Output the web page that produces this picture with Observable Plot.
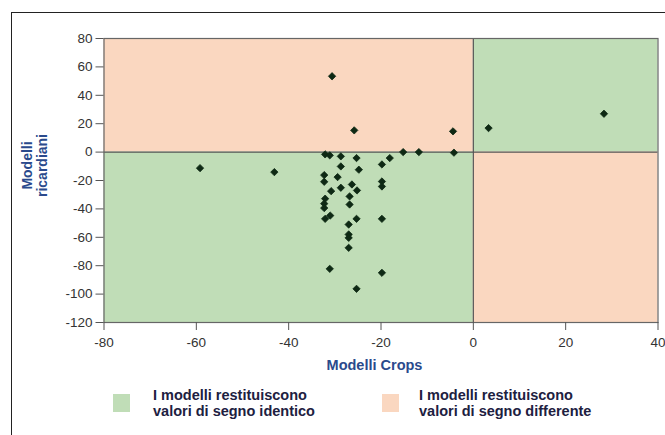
<!DOCTYPE html>
<html><head><meta charset="utf-8">
<script src="https://cdn.jsdelivr.net/npm/d3@7"></script>
<script src="https://cdn.jsdelivr.net/npm/@observablehq/plot@0.6"></script>
<style>
body{margin:0;background:#fff;font-family:"Liberation Sans",Arial,sans-serif;}
#wrap{position:relative;width:665px;height:435px;overflow:hidden;}
#border{position:absolute;left:11px;top:12px;width:700px;height:500px;border-left:1.5px solid #222;border-top:1.5px solid #222;pointer-events:none;}
#chart svg{display:block;}
#legend{position:relative;height:55px;}
.item{position:absolute;top:7px;display:flex;align-items:center;}
.sw{width:17px;height:18px;}
.lt{font-weight:bold;font-size:14.5px;line-height:16px;color:#20203f;white-space:nowrap;}
</style></head>
<body>
<div id="wrap">
<div id="chart"></div>
<div id="legend"></div>
<div id="border"></div>
</div>
<script>
// Data
const crops = [-59.2,-43.1,-30.6,-25.8,-4.4,-4.2,-15.2,-11.8,3.3,28.3,
  -32.1,-31.1,-28.7,-25.3,-18.1,-19.8,-28.7,-24.8,-32.3,-29.4,
  -32.3,-19.8,-19.8,-26.3,-28.7,-25.2,-30.8,-26.8,-32.1,-32.3,
  -26.8,-32.3,-32.1,-31.0,-25.3,-19.8,-27.0,-27.0,-27.0,-27.0,
  -31.1,-19.8,-25.3];
const ricardiani = [-11.3,-14.1,53.4,15.3,14.6,-0.4,0,0,16.9,27.0,
  -1.6,-2.3,-3.0,-4.2,-4.2,-8.7,-10.1,-12.4,-16.2,-17.6,
  -20.9,-20.7,-24.2,-22.8,-25.1,-27.0,-27.5,-31.2,-32.8,-36.3,
  -36.9,-39.4,-47.0,-44.7,-47.0,-47.0,-51.0,-58.0,-60.4,-67.4,
  -82.2,-85.0,-96.3];
const xTicks = [-80,-60,-40,-20,0,20,40];
const yTicks = [-120,-100,-80,-60,-40,-20,0,20,40,60,80];
const signLabels = ["I modelli restituiscono\nvalori di segno identico","I modelli restituiscono\nvalori di segno differente"];
const signColors = ["#c0ddb7","#fad7c0"];
const quadX1 = [-80,0,-80,0];
const quadX2 = [0,40,0,40];
const quadY1 = [0,0,-120,-120];
const quadY2 = [80,80,0,0];
const quadSign = [1,0,0,1];

const points = crops.map((x,i)=>({x, y: ricardiani[i]}));
const quads = quadX1.map((x1,i)=>({x1, x2: quadX2[i], y1: quadY1[i], y2: quadY2[i], sign: signLabels[quadSign[i]]}));
const fmt = d => String(d);

const chart = Plot.plot({
  width: 665, height: 380,
  marginLeft: 103.5, marginRight: 7.5, marginTop: 38, marginBottom: 58,
  x: {domain: [-80, 40]},
  y: {domain: [-120, 80]},
  color: {domain: signLabels, range: signColors},
  style: {fontFamily: "Liberation Sans, Arial, sans-serif", fontSize: "13.5px", color: "#333", background: "transparent"},
  marks: [
    Plot.rect(quads, {x1: "x1", x2: "x2", y1: "y1", y2: "y2", fill: "sign"}),
    Plot.ruleX([0], {stroke: "#555", strokeWidth: 1.2}),
    Plot.ruleY([0], {stroke: "#555", strokeWidth: 1.2}),
    Plot.frame({stroke: "#666", strokeWidth: 1.2}),
    Plot.dot(points, {x: "x", y: "y", symbol: "diamond2", r: 3.3, fill: "#0e2914", stroke: "#0e2914", strokeWidth: 0.8}),
    Plot.axisX({ticks: xTicks, tickFormat: fmt, tickSize: 8, tickPadding: 6.5, label: null, stroke: "#555", fontSize: 13.5}),
    Plot.axisY({ticks: yTicks, tickFormat: fmt, tickSize: 8, tickPadding: 3.5, label: null, stroke: "#555", fontSize: 13.5}),
    Plot.text(["Modelli\nricardiani"], {frameAnchor: "left", dx: -69, dy: -15, rotate: -90, textAnchor: "middle", lineAnchor: "middle", lineHeight: 1.08, fontWeight: "bold", fontSize: 14, fill: "#2a4a8c"}),
    Plot.text(["Modelli Crops"], {frameAnchor: "bottom", dx: -6.5, dy: 43, textAnchor: "middle", lineAnchor: "middle", fontWeight: "bold", fontSize: 14.5, fill: "#2a4a8c"})
  ]
});
document.getElementById("chart").appendChild(chart);

const legend = document.getElementById("legend");
const legendLeft = [113, 382];
const legendGap = [23, 20];
signLabels.forEach((lab, i) => {
  const it = document.createElement("div");
  it.className = "item";
  it.style.left = legendLeft[i] + "px";
  const sw = document.createElement("div");
  sw.className = "sw";
  sw.style.marginRight = legendGap[i] + "px";
  sw.style.background = chart.scale("color").apply(lab);
  const t = document.createElement("div");
  t.className = "lt";
  t.innerHTML = lab.split("\n").join("<br>");
  it.appendChild(sw); it.appendChild(t);
  legend.appendChild(it);
});
</script>
</body></html>
